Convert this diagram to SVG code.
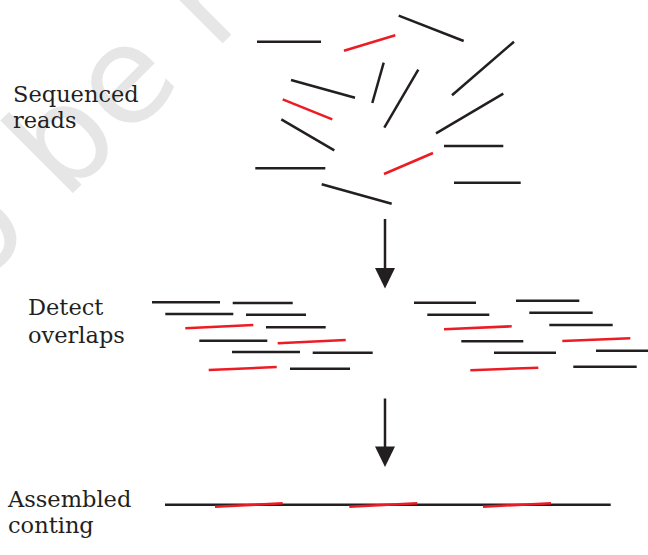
<svg xmlns="http://www.w3.org/2000/svg" width="648" height="555" viewBox="0 0 648 555">
<style>
.k{stroke:#231f20;stroke-width:2.5;stroke-linecap:butt;fill:none}
.r{stroke:#ed1c24;stroke-width:2.5;stroke-linecap:butt;fill:none}
.lbl{font-family:"DejaVu Serif","Liberation Serif",serif;font-size:22.5px;fill:#231f20}
.wm{font-family:"DejaVu Sans","Liberation Sans",sans-serif;font-size:135px;fill:#e6e6e6}
</style>
<rect width="648" height="555" fill="#ffffff"/>
<text class="wm" x="-24.4" y="290.4" transform="rotate(-45 -24.4 290.4)">o be re</text>

<g id="label-sequenced">
<text class="lbl" x="13" y="101.5">Sequenced</text>
<text class="lbl" x="13" y="127.5">reads</text>
</g>
<g id="label-overlaps">
<text class="lbl" x="28" y="315">Detect</text>
<text class="lbl" x="28" y="342.5">overlaps</text>
</g>
<g id="label-assembled">
<text class="lbl" x="8" y="506.5">Assembled</text>
<text class="lbl" x="8" y="533">conting</text>
</g>

<g id="sequenced-reads">
<line class="k" x1="257" y1="41.7" x2="321" y2="41.7"/>
<line class="r" x1="344" y1="50.7" x2="395.3" y2="35.3"/>
<line class="k" x1="398.7" y1="15.7" x2="463.7" y2="41"/>
<line class="k" x1="514" y1="41.7" x2="452" y2="95.3"/>
<line class="k" x1="291" y1="80" x2="355" y2="97.7"/>
<line class="k" x1="383.7" y1="62.7" x2="372.3" y2="103"/>
<line class="k" x1="418.3" y1="69.7" x2="384.3" y2="127.7"/>
<line class="r" x1="282.7" y1="99.3" x2="332.3" y2="119.3"/>
<line class="k" x1="503.3" y1="93.7" x2="436" y2="133.3"/>
<line class="k" x1="281.3" y1="119.3" x2="334.3" y2="150.3"/>
<line class="k" x1="444" y1="146" x2="503.3" y2="146"/>
<line class="k" x1="255.3" y1="168.3" x2="325.3" y2="168.3"/>
<line class="r" x1="384" y1="174" x2="433" y2="153"/>
<line class="k" x1="454" y1="182.7" x2="520.7" y2="182.7"/>
<line class="k" x1="321.7" y1="184.3" x2="391.7" y2="203.7"/>
</g>

<g id="overlaps-left">
<line class="k" x1="152" y1="302.3" x2="220" y2="302.3"/>
<line class="k" x1="232.7" y1="303" x2="292.7" y2="303"/>
<line class="k" x1="165.3" y1="314" x2="233.3" y2="314"/>
<line class="k" x1="246" y1="314.7" x2="306" y2="314.7"/>
<line class="r" x1="185.3" y1="328.3" x2="253.3" y2="325"/>
<line class="k" x1="266" y1="327.3" x2="325.7" y2="327.3"/>
<line class="k" x1="199.3" y1="340.7" x2="267.3" y2="340.7"/>
<line class="r" x1="277.7" y1="343.3" x2="345.7" y2="340"/>
<line class="k" x1="232" y1="352" x2="300" y2="352"/>
<line class="k" x1="312.7" y1="352.7" x2="372.7" y2="352.7"/>
<line class="r" x1="208.7" y1="370" x2="276.7" y2="367"/>
<line class="k" x1="290" y1="368.7" x2="350" y2="368.7"/>
</g>

<g id="overlaps-right">
<line class="k" x1="414" y1="302.7" x2="476" y2="302.7"/>
<line class="k" x1="516" y1="300.7" x2="579.3" y2="300.7"/>
<line class="k" x1="427.3" y1="314.7" x2="489.3" y2="314.7"/>
<line class="k" x1="529.3" y1="312.7" x2="592.7" y2="312.7"/>
<line class="r" x1="444" y1="329.3" x2="511.7" y2="326.3"/>
<line class="k" x1="549.3" y1="325" x2="612.7" y2="325"/>
<line class="k" x1="461.3" y1="341.3" x2="523.3" y2="341.3"/>
<line class="r" x1="562.3" y1="341" x2="630.3" y2="338.3"/>
<line class="k" x1="494" y1="352.7" x2="556" y2="352.7"/>
<line class="k" x1="596" y1="350.7" x2="648" y2="350.7"/>
<line class="r" x1="470.3" y1="370.3" x2="538.3" y2="367.7"/>
<line class="k" x1="573.3" y1="366.7" x2="636.7" y2="366.7"/>
</g>

<g id="contig">
<line class="k" x1="165" y1="504.7" x2="610.7" y2="504.7"/>
<line class="r" x1="215" y1="506.7" x2="282.7" y2="503.3"/>
<line class="r" x1="349.3" y1="506.7" x2="417.3" y2="503.3"/>
<line class="r" x1="483" y1="506.7" x2="551" y2="503.3"/>
</g>

<g id="connectors">
<line class="k" x1="385" y1="219" x2="385" y2="270"/>
<path d="M375,268 L395,268 L385,288.5 Z" fill="#231f20"/>
<line class="k" x1="385" y1="398.5" x2="385" y2="448"/>
<path d="M375,446.5 L395,446.5 L385,467 Z" fill="#231f20"/>
</g>
</svg>
